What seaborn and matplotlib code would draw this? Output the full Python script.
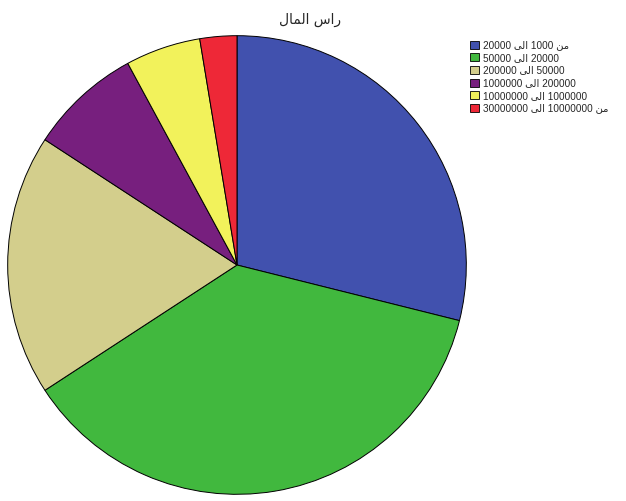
import matplotlib
matplotlib.use("Agg")
import matplotlib.pyplot as plt
import seaborn as sns
from matplotlib.patches import Patch

sns.set_theme(style="white")
plt.rcParams['font.family'] = ['Liberation Sans', 'DejaVu Sans']

# Title "راس المال" written in visual (left-to-right) order with Arabic presentation forms
title = "\uFEDD\uFE8E\uFEE4\uFEDF\uFE8D \uFEB1\uFE8D\uFEAD"

ALA = "\uFEF0\uFEDF\uFE8D"   # "الى" in visual order
MN = "\uFEE6\uFEE3"          # "من" in visual order

categories = [
    "20000 " + ALA + " 1000 " + MN,
    "50000 " + ALA + " 20000",
    "200000 " + ALA + " 50000",
    "1000000 " + ALA + " 200000",
    "10000000 " + ALA + " 1000000",
    "30000000 " + ALA + " 10000000 " + MN,
]
values = [28.9, 36.9, 18.4, 7.9, 5.3, 2.6]
colors = ["#4151AE", "#41B83E", "#D3CE8C", "#771F7E", "#F2F25B", "#EE2837"]

W, H = 626, 501
fig = plt.figure(figsize=(W / 100, H / 100), dpi=100)
cx, cy, r = 237, 265, 230
ax = fig.add_axes([(cx - r) / W, (H - cy - r) / H, 2 * r / W, 2 * r / H])
ax.pie(values, colors=colors, startangle=90, counterclock=False,
       wedgeprops=dict(edgecolor="black", linewidth=0.7), radius=1)
ax.set_xlim(-1.003, 1.003)
ax.set_ylim(-1.003, 1.003)
ax.set_axis_off()

fig.text(310 / W, 1 - 20 / H, title, ha="center", va="center", fontsize=10,
         family=['DejaVu Sans'])

handles = [Patch(facecolor=c, edgecolor="black", linewidth=0.6) for c in colors]
fig.legend(handles, categories, loc="upper left",
           bbox_to_anchor=(468 / W, 1 - 38 / H), frameon=False,
           fontsize=7.2, handlelength=0.9, handleheight=0.85, handletextpad=0.35,
           labelspacing=0.27, borderaxespad=0, borderpad=0.2)

fig.savefig("out.png", dpi=100)
